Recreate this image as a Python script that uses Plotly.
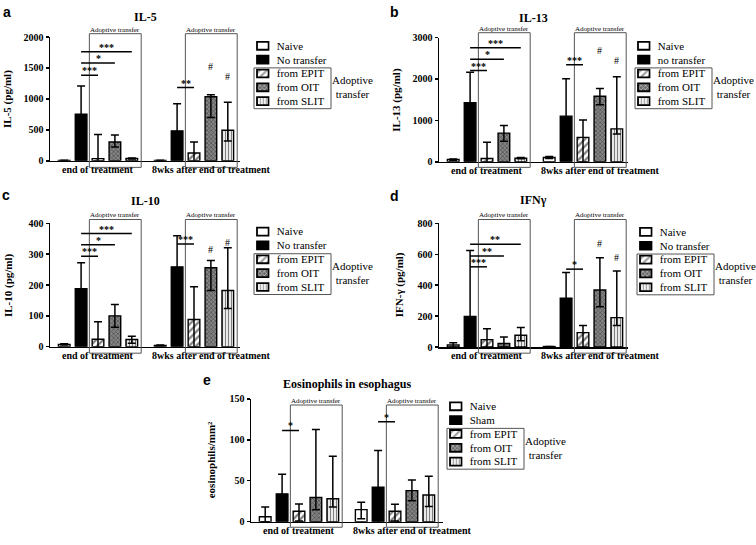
import plotly.graph_objects as go

W, H = 756, 545

categories = ["end of treatment", "8wks after end of treatment"]

# ---- data (mean, upper error, lower error) per series: Naive, No transfer, EPIT, OIT, SLIT
il5_vals = [[5, 5], [752, 484], [35, 126], [305, 1036], [37, 494]]
il5_err_up = [[5, 4], [458, 436], [390, 179], [110, 32], [8, 453]]
il5_err_dn = [[5, 4], [458, 436], [110, 200], [80, 336], [8, 173]]
il5_sig = [(0, 2, 1383, "***"), (0, 3, 1578, "*"), (0, 4, 1762, "***"), (1, 2, 1184, "**")]
il5_hash = [(3, 1525), (4, 1368)]

il13_vals = [[55, 102], [1425, 1102], [79, 590], [693, 1582], [87, 795]]
il13_err_up = [[15, 24], [740, 905], [393, 417], [181, 189], [15, 1259]]
il13_err_dn = [[15, 24], [740, 905], [190, 600], [197, 205], [15, 126]]
il13_sig = [(0, 2, 2204, "***"), (0, 3, 2479, "*"), (0, 4, 2754, "***"), (1, 2, 2345, "***")]
il13_hash = [(3, 2700), (4, 2440)]

il10_vals = [[7, 4], [188, 259], [24, 88], [100, 256], [23, 182]]
il10_err_up = [[2, 1], [84, 101], [57, 106], [37, 24], [11, 139]]
il10_err_dn = [[2, 1], [84, 101], [42, 106], [37, 74], [12, 58]]
il10_sig = [(0, 2, 293, "***"), (0, 3, 331, "*"), (0, 4, 367, "***"), (1, 2, 333, "***")]
il10_hash = [(3, 314), (4, 338)]

ifng_vals = [[13, 3], [198, 316], [48, 93], [23, 369], [76, 190]]
ifng_err_up = [[14, 1], [427, 167], [70, 46], [42, 209], [51, 302]]
ifng_err_dn = [[14, 1], [427, 167], [74, 100], [25, 109], [36, 51]]
ifng_sig = [(0, 2, 519, "***"), (0, 3, 589, "**"), (0, 4, 665, "**"), (1, 2, 504, "*")]
ifng_hash = [(3, 667), (4, 582)]

eos_vals = [[6, 14.7], [34, 42], [12.7, 12.7], [29.5, 38], [28, 32.6]]
eos_err_up = [[12, 9], [24, 45], [9, 8.5], [83, 13], [52, 23]]
eos_err_dn = [[6, 11], [24, 45], [12, 12], [15, 12.5], [10, 14]]
eos_sig = [(0, 2, 111.5, "*"), (1, 2, 122, "*")]
eos_hash = []

legend_a = ["Naive", "No transfer", "from EPIT", "from OIT", "from SLIT"]
legend_b = ["Naive", "no transfer", "from EPIT", "from OIT", "from SLIT"]
legend_e = ["Naive", "Sham", "from EPIT", "from OIT", "from SLIT"]

# ---- styles
SERIF = "Liberation Serif"
SANS = "Liberation Sans"
fills = ["white", "black", "white", "#6a6a6a", "white"]
pat_shape = ["", "", "/", "x", "|"]
pat_fg = ["black", "black", "black", "#1e1e1e", "black"]
pat_bg = ["white", "black", "white", "#858585", "white"]
pat_size = [6, 6, 5, 3, 3]
pat_sol = [0.3, 0.3, 0.45, 0.45, 0.45]

BARGAP = 0.12
SLOT = (1 - BARGAP) / 5

panels = [
    dict(letter="a", title="IL-5", ytitle="IL-5 (pg/ml)", vals=il5_vals, up=il5_err_up, dn=il5_err_dn,
         sig=il5_sig, hashes=il5_hash, legend=legend_a, ymax=2000, dtick=500,
         px=(50, 240, 158.3, 31.7), box=(28.3, 165), lx=257, ly0=40.7, lxy=(7, 6), tdy=20, ydx=-42),
    dict(letter="b", title="IL-13", ytitle="IL-13 (pg/ml)", vals=il13_vals, up=il13_err_up, dn=il13_err_dn,
         sig=il13_sig, hashes=il13_hash, legend=legend_b, ymax=3000, dtick=1000,
         px=(439, 628, 159.3, 32.3), box=(27.3, 165), lx=638, ly0=40.7, lxy=(394, 6), tdy=20, ydx=-42),
    dict(letter="c", title="IL-10", ytitle="IL-10 (pg/ml)", vals=il10_vals, up=il10_err_up, dn=il10_err_dn,
         sig=il10_sig, hashes=il10_hash, legend=legend_a, ymax=400, dtick=100,
         px=(50, 240, 348.3, 222.3), box=(218.3, 355), lx=257, ly0=230.7, lxy=(6, 193), tdy=22, ydx=-42),
    dict(letter="d", title="IFNγ", ytitle="IFN-γ (pg/ml)", vals=ifng_vals, up=ifng_err_up, dn=ifng_err_dn,
         sig=ifng_sig, hashes=ifng_hash, legend=legend_a, ymax=800, dtick=200,
         px=(439, 628, 348.7, 222.3), box=(218.3, 355), lx=640, ly0=231, lxy=(394, 194), tdy=23, ydx=-40),
    dict(letter="e", title="Eosinophils in esophagus", ytitle="eosinophils/mm²", vals=eos_vals, up=eos_err_up,
         dn=eos_err_dn, sig=eos_sig, hashes=eos_hash, legend=legend_e, ymax=150, dtick=50,
         px=(251, 443, 527.3, 401.7), box=(408, 533), lx=450, ly0=409.3, lxy=(207, 382), tdy=15, ydx=-40),
]

fig = go.Figure()
layout = dict(width=W, height=H, margin=dict(l=0, r=0, t=0, b=0), autosize=False,
              paper_bgcolor="white", plot_bgcolor="white", showlegend=False,
              barmode="group", bargap=BARGAP, bargroupgap=0.31)
shapes, annots = [], []


def fx(p):
    return p / W


def fy(p):
    return 1 - p / H


def sfx(n):
    return "" if n == 1 else str(n)


ROW = 14.15
BOXW = 11.6

for i, P in enumerate(panels):
    n = i + 1
    xa, ya = "x" + sfx(n), "y" + sfx(n)
    x0, x1, yb, yt = P["px"]
    for s in range(5):
        fig.add_trace(go.Bar(
            x=categories, y=P["vals"][s], xaxis=xa, yaxis=ya,
            marker=dict(color=fills[s], line=dict(color="black", width=1.4),
                        pattern=dict(shape=pat_shape[s], fgcolor=pat_fg[s], bgcolor=pat_bg[s],
                                     size=pat_size[s], solidity=pat_sol[s])),
            error_y=dict(type="data", symmetric=False, array=P["up"][s], arrayminus=P["dn"][s],
                         color="black", thickness=1.5, width=4),
        ))
    r0 = -0.5
    r1 = r0 + (x1 - x0) / 96.0
    layout["xaxis" + sfx(n)] = dict(domain=[fx(x0), fx(x1)], anchor=ya, type="category",
                                    range=[r0, r1], showline=True, linecolor="black", linewidth=1.5,
                                    showticklabels=False, ticks="", showgrid=False, zeroline=False)
    layout["yaxis" + sfx(n)] = dict(domain=[fy(yb), fy(yt)], anchor=xa, range=[0, P["ymax"]],
                                    dtick=P["dtick"], tick0=0, showline=True, linecolor="black",
                                    linewidth=1.5, ticks="outside", ticklen=3, tickwidth=1.5,
                                    tickcolor="black", showgrid=False, zeroline=False,
                                    tickfont=dict(family=SERIF, size=10, color="black", weight="bold"))
    dom_h = yb - yt
    btop = 1 + (yt - P["box"][0]) / dom_h
    bbot = -(P["box"][1] - yb) / dom_h
    for g in range(2):
        shapes.append(dict(type="rect", xref=xa, yref=ya + " domain", x0=g - 0.09, x1=g + 0.45,
                           y0=bbot, y1=btop, line=dict(color="#555", width=1), fillcolor="rgba(0,0,0,0)"))
        annots.append(dict(xref=xa, yref=ya + " domain", x=g + 0.18, y=btop, xanchor="center",
                           yanchor="middle", yshift=4, showarrow=False, text="Adoptive transfer",
                           font=dict(family=SERIF, size=7, color="black")))
        annots.append(dict(xref=xa, yref=ya + " domain", x=g, y=0, xanchor="center", yanchor="top",
                           yshift=-1, xshift=(0 if g == 0 else 17), showarrow=False, text=categories[g],
                           font=dict(family=SERIF, size=10, color="black", weight="bold")))
    for (g, t, yv, lab) in P["sig"]:
        xs = g + (1 - 2) * SLOT
        xe = g + (t - 2) * SLOT
        shapes.append(dict(type="line", xref=xa, yref=ya, x0=xs, x1=xe, y0=yv, y1=yv,
                           line=dict(color="black", width=1.5)))
        annots.append(dict(xref=xa, yref=ya, x=(xs + xe) / 2, y=yv, xanchor="center", yanchor="bottom",
                           yshift=-3, showarrow=False, text=lab,
                           font=dict(family=SERIF, size=10, color="black", weight="bold")))
    for (t, yv) in P["hashes"]:
        annots.append(dict(xref=xa, yref=ya, x=1 + (t - 2) * SLOT, y=yv, xanchor="center",
                           yanchor="middle", showarrow=False, text="#",
                           font=dict(family=SERIF, size=10, color="black")))
    # titles
    annots.append(dict(xref=xa + " domain", yref=ya + " domain", x=0.5, y=1, xanchor="center",
                       yanchor="middle", yshift=P["tdy"], showarrow=False, text=P["title"],
                       font=dict(family=SERIF, size=12, color="black", weight="bold")))
    annots.append(dict(xref=xa + " domain", yref=ya + " domain", x=0, y=0.5, xanchor="center",
                       yanchor="middle", xshift=P["ydx"], textangle=-90, showarrow=False,
                       text=P["ytitle"], font=dict(family=SERIF, size=11, color="black", weight="bold")))
    annots.append(dict(xref="paper", yref="paper", x=fx(P["lxy"][0]), y=fy(P["lxy"][1]),
                       xanchor="center", yanchor="middle", showarrow=False, text=P["letter"],
                       font=dict(family=SANS, size=14, color="black", weight="bold")))
    # legend built as a tiny horizontal bar chart
    m = n + 5
    lxa, lya = "x" + str(m), "y" + str(m)
    lx, ly0 = P["lx"], P["ly0"]
    fig.add_trace(go.Bar(
        x=[1] * 5, y=P["legend"], orientation="h", width=0.57, xaxis=lxa, yaxis=lya,
        marker=dict(color=fills, line=dict(color="black", width=1.8),
                    pattern=dict(shape=pat_shape, fgcolor=pat_fg, bgcolor=pat_bg,
                                 size=pat_size, solidity=pat_sol)),
    ))
    pad = BOXW * 0.1
    layout["xaxis" + str(m)] = dict(domain=[fx(lx - pad), fx(lx + BOXW + pad)], anchor=lya,
                                    range=[-0.1, 1.1], visible=False)
    layout["yaxis" + str(m)] = dict(domain=[fy(ly0 + 4 * ROW + ROW / 2), fy(ly0 - ROW / 2)], anchor=lxa,
                                    type="category", range=[4.5, -0.5], side="right", showline=False,
                                    showgrid=False, zeroline=False, ticks="", ticklabelstandoff=6,
                                    tickfont=dict(family=SERIF, size=11, color="black"))
    shapes.append(dict(type="rect", xref="paper", yref="paper", x0=fx(lx - 3), x1=fx(lx + 74),
                       y0=fy(ly0 + 4 * ROW + 7.7), y1=fy(ly0 + 2 * ROW - 5.7),
                       line=dict(color="#555", width=1), fillcolor="rgba(0,0,0,0)"))
    annots.append(dict(xref="paper", yref="paper", x=fx(lx + 95), y=fy(ly0 + 3 * ROW),
                       xanchor="center", yanchor="middle", showarrow=False, text="Adoptive<br>transfer",
                       font=dict(family=SERIF, size=11, color="black")))

layout["shapes"] = shapes
layout["annotations"] = annots
fig.update_layout(**layout)
fig.write_html("out.html", config={"displayModeBar": False, "staticPlot": True},
               post_script="document.body.style.margin='0';document.body.style.overflow='hidden';")
